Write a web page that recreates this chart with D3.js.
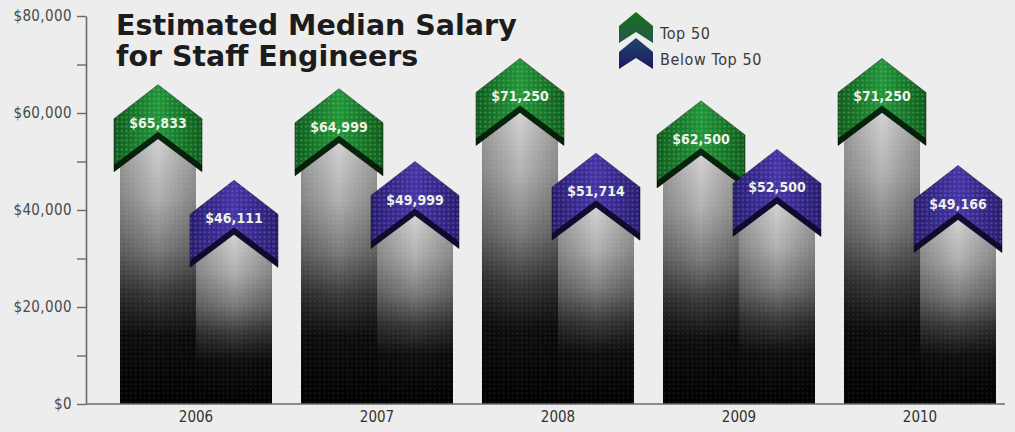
<!DOCTYPE html>
<html>
<head>
<meta charset="utf-8">
<script src="https://cdn.jsdelivr.net/npm/d3@7"></script>
<style>
  html, body { margin: 0; padding: 0; background: #ededed; }
  svg { display: block; }
  .narrow { font-family: "DejaVu Sans Condensed", "Liberation Sans Narrow", sans-serif; }
</style>
</head>
<body>
<svg id="chart" width="1015" height="432"></svg>
<script>
// Estimated median salary for staff engineers, by year
const years = ["2006", "2007", "2008", "2009", "2010"];
const top50 = [65833, 64999, 71250, 62500, 71250];
const belowTop50 = [46111, 49999, 51714, 52500, 49166];
const seriesKeys = ["top", "below"];
const seriesNames = ["Top 50", "Below Top 50"];
const yTickValues = [0, 10000, 20000, 30000, 40000, 50000, 60000, 70000, 80000];
const yLabelValues = [0, 20000, 40000, 60000, 80000];
const titleLines = ["Estimated Median Salary", "for Staff Engineers"];

const width = 1015, height = 432;
const svg = d3.select("#chart");

const axisX = 86;
const y = d3.scaleLinear().domain([0, 80000]).range([404, 16]);
const x0 = d3.scaleBand().domain(years).range([105.5, 1010.5])
  .paddingInner(0.1602).paddingOuter(0.0801);
const x1 = d3.scaleBand().domain(seriesKeys).range([0, x0.bandwidth()]);

const fmt = d3.format("$,");

// ---------- defs: gradients and textures ----------
const defs = svg.append("defs");

const barGrad = defs.append("linearGradient").attr("id", "barGrad")
  .attr("x1", 0).attr("y1", 0).attr("x2", 0).attr("y2", 1);
[[0, "#d2d2d2"], [0.22, "#b0b0b0"], [0.42, "#7a7a7a"], [0.58, "#3a3a3a"], [0.74, "#0e0e0e"], [1, "#000"]]
  .forEach(([o, c]) => barGrad.append("stop").attr("offset", o).attr("stop-color", c));

const barShade = defs.append("linearGradient").attr("id", "barShade")
  .attr("x1", 0).attr("y1", 0).attr("x2", 1).attr("y2", 0);
[[0, 0.25], [0.5, 0], [1, 0.25]]
  .forEach(([o, a]) => barShade.append("stop").attr("offset", o).attr("stop-color", "#000").attr("stop-opacity", a));

const palette = {
  top:   { edge: "#0f5a1c", mid: "#22943a", dot: "#7fe08a", dark: "#041406" },
  below: { edge: "#261c6c", mid: "#4434a4", dot: "#9d90ee", dark: "#0a0720" }
};
seriesKeys.forEach(k => {
  const g = defs.append("linearGradient").attr("id", "chev-" + k)
    .attr("x1", 0).attr("y1", 0).attr("x2", 1).attr("y2", 0);
  [[0, palette[k].edge], [0.5, palette[k].mid], [1, palette[k].edge]]
    .forEach(([o, c]) => g.append("stop").attr("offset", o).attr("stop-color", c));
  const p = defs.append("pattern").attr("id", "dots-" + k)
    .attr("patternUnits", "userSpaceOnUse").attr("width", 4.6).attr("height", 4.6);
  p.append("circle").attr("cx", 2.3).attr("cy", 2.3).attr("r", 1.2)
    .attr("fill", palette[k].dot).attr("opacity", 0.35);
});

const barDots = defs.append("pattern").attr("id", "barDots")
  .attr("patternUnits", "userSpaceOnUse").attr("width", 4.6).attr("height", 4.6);
barDots.append("circle").attr("cx", 2.3).attr("cy", 2.3).attr("r", 1.1)
  .attr("fill", "#fff").attr("opacity", 0.08);

const legGradTop = defs.append("linearGradient").attr("id", "legTop")
  .attr("x1", 0).attr("y1", 0).attr("x2", 0).attr("y2", 1);
[[0, "#1c6e1c"], [1, "#1f5a48"]].forEach(([o, c]) => legGradTop.append("stop").attr("offset", o).attr("stop-color", c));
const legGradBelow = defs.append("linearGradient").attr("id", "legBelow")
  .attr("x1", 0).attr("y1", 0).attr("x2", 0).attr("y2", 1);
[[0, "#22436a"], [1, "#1c1a62"]].forEach(([o, c]) => legGradBelow.append("stop").attr("offset", o).attr("stop-color", c));

// ---------- chevron geometry ----------
function chevronPoints(cx, t, hw, shoulder, side, notch) {
  return [
    [cx, t], [cx + hw, t + shoulder], [cx + hw, t + shoulder + side],
    [cx, t + notch], [cx - hw, t + shoulder + side], [cx - hw, t + shoulder]
  ];
}
const line = d3.line();

// ---------- data rows ----------
const rows = years.map((yr, i) => ({
  year: yr,
  values: [
    { key: "top", value: top50[i] },
    { key: "below", value: belowTop50[i] }
  ]
}));
const marks = rows.flatMap(r => r.values.map(v => ({ year: r.year, ...v })));

const bw = x1.bandwidth();           // bar width
const hw = bw / 2 + 6;               // chevron half width
const shoulder = 34, side = 53, notch = 54;
const slope = (shoulder + side - notch) / hw;

// ---------- y axis ----------
const yAxis = d3.axisLeft(y).tickValues(yTickValues).tickSize(9).tickSizeOuter(0)
  .tickFormat(d => yLabelValues.includes(d) ? fmt(d) : "");
const yg = svg.append("g").attr("transform", `translate(${axisX},0)`).call(yAxis);
yg.select(".domain").attr("stroke", "#6a6a6a").attr("stroke-width", 1.6);
yg.selectAll(".tick line").attr("stroke", "#6a6a6a").attr("stroke-width", 1.4);
yg.selectAll(".tick text").attr("class", "narrow").attr("x", -14)
  .attr("font-size", 15).attr("letter-spacing", 0.4).attr("fill", "#4a4a4a");

// ---------- bars ----------
const cxOf = d => x0(d.year) + x1(d.key) + bw / 2;
const barPath = d => {
  const cx = cxOf(d), t = y(d.value);
  const n = t + notch, s = n + (bw / 2) * slope, b = y(0);
  return line([[cx, n], [cx + bw / 2, s], [cx + bw / 2, b], [cx - bw / 2, b], [cx - bw / 2, s]]) + "Z";
};
const bars = svg.append("g");
bars.selectAll("path.bar").data(marks).join("path").attr("class", "bar")
  .attr("d", barPath).attr("fill", "url(#barGrad)");
bars.selectAll("path.shade").data(marks).join("path").attr("class", "shade")
  .attr("d", barPath).attr("fill", "url(#barShade)");
bars.selectAll("path.tex").data(marks).join("path").attr("class", "tex")
  .attr("d", barPath).attr("fill", "url(#barDots)");

// ---------- x axis ----------
svg.append("line").attr("x1", axisX).attr("x2", 1005).attr("y1", y(0)).attr("y2", y(0))
  .attr("stroke", "#6a6a6a").attr("stroke-width", 1.6);
const xAxis = d3.axisBottom(x0).tickSize(0).tickSizeOuter(0);
const xg = svg.append("g").attr("transform", `translate(0,${y(0)})`).call(xAxis);
xg.select(".domain").remove();
xg.selectAll(".tick text").attr("class", "narrow").attr("dy", "1em")
  .attr("font-size", 15).attr("fill", "#333");

// ---------- chevrons ----------
const chevs = svg.append("g");
["top", "below"].forEach(k => {
  const g = chevs.append("g");
  const sel = g.selectAll("g").data(marks.filter(d => d.key === k)).join("g");
  const pts = d => chevronPoints(cxOf(d), y(d.value), hw, shoulder, side, notch);
  sel.append("path").attr("d", d => line(pts(d)) + "Z")
    .attr("fill", `url(#chev-${k})`).attr("stroke", "#111").attr("stroke-opacity", 0.5);
  sel.append("path").attr("d", d => line(pts(d)) + "Z").attr("fill", `url(#dots-${k})`);
  // dark lower rim of the chevron
  sel.append("path").attr("d", d => {
    const cx = cxOf(d), t = y(d.value), r = 7;
    const bl = [cx - hw, t + shoulder + side], br = [cx + hw, t + shoulder + side], n = [cx, t + notch];
    return line([bl, n, br, [br[0], br[1] - r], [cx, n[1] - r], [bl[0], bl[1] - r]]) + "Z";
  }).attr("fill", palette[k].dark).attr("opacity", 0.88);
  sel.append("text").attr("class", "narrow")
    .attr("x", d => cxOf(d)).attr("y", d => y(d.value) + 43)
    .attr("text-anchor", "middle").attr("font-size", 14).attr("font-weight", "bold")
    .attr("fill", "#eef2e6")
    .text(d => fmt(d.value));
});

// ---------- title ----------
svg.append("g").selectAll("text").data(titleLines).join("text")
  .attr("x", 116).attr("y", (d, i) => 35 + i * 31)
  .attr("font-family", "'DejaVu Sans', sans-serif")
  .attr("font-size", 28.5).attr("font-weight", "bold").attr("fill", "#1c1c1c")
  .text(d => d);

// ---------- legend ----------
const legend = svg.append("g").attr("transform", "translate(636,12)");
const legItems = legend.selectAll("g").data(seriesKeys).join("g")
  .attr("transform", (d, i) => `translate(0,${i * 26})`);
legItems.append("path")
  .attr("d", () => line(chevronPoints(0, 0, 17, 14, 17, 20)) + "Z")
  .attr("fill", d => d === "top" ? "url(#legTop)" : "url(#legBelow)");
legItems.append("text").attr("class", "narrow")
  .attr("x", 24).attr("y", 27).attr("font-size", 16).attr("letter-spacing", 0.6)
  .attr("fill", "#3a3a3a").text((d, i) => seriesNames[i]);
</script>
</body>
</html>
